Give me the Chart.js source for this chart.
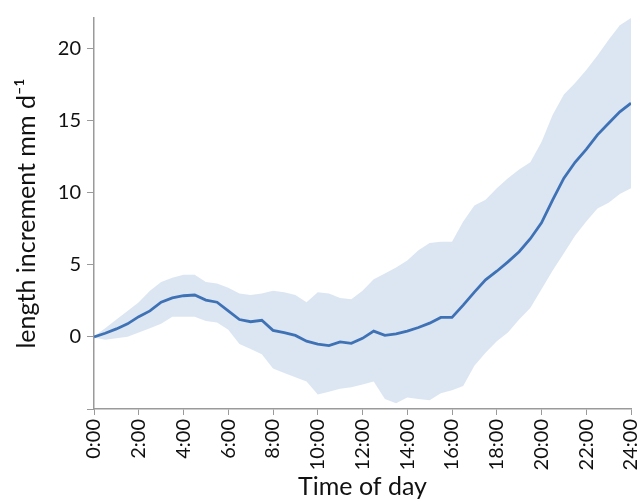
<!DOCTYPE html>
<html>
<head>
<meta charset="utf-8">
<script src="https://cdn.jsdelivr.net/npm/chart.js@4"></script>
<style>
  html, body { margin: 0; padding: 0; background: #fff; }
  #wrap { width: 643px; height: 502px; }
</style>
</head>
<body>
<div id="wrap"><canvas id="growth"></canvas></div>
<script>
// hours of the day, half-hour steps
const hours = [0, 0.5, 1, 1.5, 2, 2.5, 3, 3.5, 4, 4.5, 5, 5.5, 6, 6.5, 7, 7.5, 8, 8.5, 9, 9.5,
  10, 10.5, 11, 11.5, 12, 12.5, 13, 13.5, 14, 14.5, 15, 15.5, 16, 16.5, 17, 17.5, 18, 18.5, 19, 19.5,
  20, 20.5, 21, 21.5, 22, 22.5, 23, 23.5, 24];

const meanIncrement = [0, 0.25, 0.55, 0.9, 1.4, 1.8, 2.4, 2.7, 2.85, 2.9, 2.55, 2.4, 1.8, 1.2, 1.05, 1.15, 0.45, 0.3, 0.1, -0.3,
  -0.5, -0.6, -0.35, -0.45, -0.1, 0.4, 0.1, 0.2, 0.4, 0.65, 0.95, 1.35, 1.35, 2.2, 3.1, 3.95, 4.55, 5.2, 5.9, 6.8,
  7.9, 9.5, 11.0, 12.1, 13.0, 14.0, 14.8, 15.6, 16.2];

const upperBand = [0.05, 0.6, 1.2, 1.8, 2.4, 3.2, 3.8, 4.1, 4.3, 4.3, 3.8, 3.7, 3.4, 3.0, 2.9, 3.0, 3.2, 3.1, 2.9, 2.4,
  3.1, 3.0, 2.7, 2.6, 3.2, 4.0, 4.4, 4.8, 5.3, 6.0, 6.5, 6.6, 6.6, 8.0, 9.1, 9.5, 10.3, 11.0, 11.6, 12.1,
  13.5, 15.4, 16.8, 17.6, 18.5, 19.5, 20.6, 21.6, 22.1];

const lowerBand = [-0.05, -0.2, -0.1, 0, 0.3, 0.6, 0.9, 1.4, 1.4, 1.4, 1.1, 1.0, 0.5, -0.5, -0.85, -1.2, -2.2, -2.5, -2.8, -3.1,
  -4.0, -3.8, -3.6, -3.5, -3.3, -3.1, -4.3, -4.6, -4.2, -4.3, -4.4, -3.9, -3.7, -3.4, -2.0, -1.1, -0.3, 0.3, 1.2, 2.0,
  3.3, 4.6, 5.8, 7.0, 8.0, 8.9, 9.3, 9.9, 10.3];

const xTicks = [0, 2, 4, 6, 8, 10, 12, 14, 16, 18, 20, 22, 24];
const yTicks = [-5, 0, 5, 10, 15, 20];

const pts = arr => arr.map((v, i) => ({ x: hours[i], y: v }));

const font = 'Lato, "Open Sans", sans-serif';
const grey = '#9a9a9a';

new Chart(document.getElementById('growth'), {
  type: 'line',
  data: {
    datasets: [
      {
        data: pts(meanIncrement),
        borderColor: '#3f72b5',
        borderWidth: 2.8,
        pointRadius: 0,
        fill: false,
        order: 0
      },
      {
        data: pts(upperBand),
        borderWidth: 0,
        pointRadius: 0,
        backgroundColor: '#dce6f2',
        fill: '+1',
        order: 1
      },
      {
        data: pts(lowerBand),
        borderWidth: 0,
        pointRadius: 0,
        fill: false,
        order: 1
      }
    ]
  },
  options: {
    animation: false,
    responsive: true,
    maintainAspectRatio: false,
    layout: { padding: { left: 12, right: 12, top: 15, bottom: 0 } },
    plugins: { legend: { display: false }, tooltip: { enabled: false } },
    scales: {
      x: {
        type: 'linear',
        min: 0,
        max: 24,
        afterBuildTicks: s => { s.ticks = xTicks.map(v => ({ value: v })); },
        afterFit: s => { s.height = 93; s.paddingLeft = 0; s.paddingRight = 0; },
        grid: { drawOnChartArea: false, color: grey, tickLength: 6 },
        border: { color: grey, width: 1.5 },
        ticks: {
          maxRotation: 90, minRotation: 90,
          color: '#111', font: { family: font, size: 20 },
          padding: 4,
          callback: v => v + ':00'
        },
        title: { display: true, text: 'Time of day', color: '#111', font: { family: font, size: 25 }, padding: 0 }
      },
      y: {
        min: -5,
        max: 22.1,
        afterBuildTicks: s => { s.ticks = yTicks.map(v => ({ value: v })); },
        afterFit: s => { s.width = 82; },
        grid: { drawOnChartArea: false, color: grey, tickLength: 7 },
        border: { color: grey, width: 1.5 },
        ticks: {
          color: '#111', font: { family: font, size: 20 },
          padding: 6,
          callback: v => v === -5 ? '' : v
        },
        title: { display: true, text: 'length increment mm d\u207B\u00B9', color: '#111', font: { family: font, size: 25 }, padding: 0 }
      }
    }
  }
});
</script>
</body>
</html>
